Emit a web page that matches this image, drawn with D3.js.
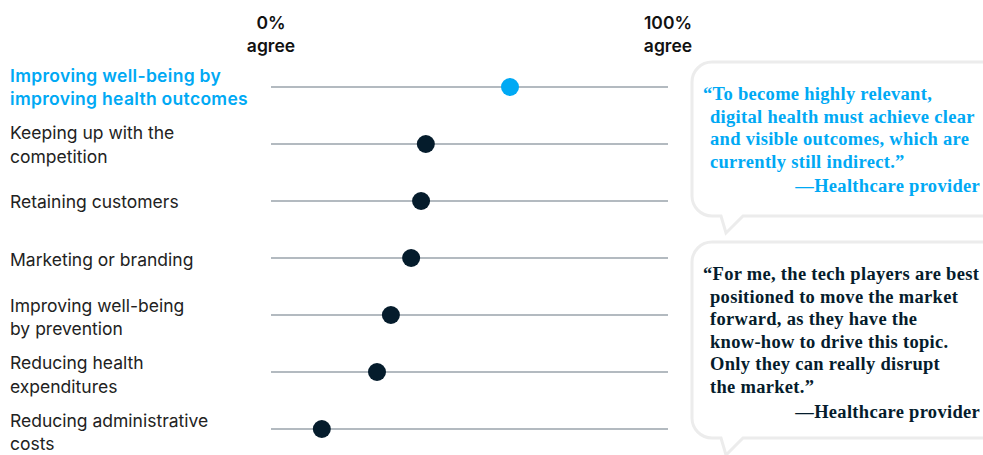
<!DOCTYPE html>
<html><head><meta charset="utf-8">
<script src="https://cdn.jsdelivr.net/npm/d3@7"></script>
<style>
html,body{margin:0;padding:0;background:#fff;}
svg{display:block;}
</style></head>
<body>
<svg id="chart" width="983" height="455"></svg>
<script>
const categories = [
  ["Improving well-being by", "improving health outcomes"],
  ["Keeping up with the", "competition"],
  ["Retaining customers"],
  ["Marketing or branding"],
  ["Improving well-being", "by prevention"],
  ["Reducing health", "expenditures"],
  ["Reducing administrative", "costs"]
];
const values = [60.2, 39.0, 37.8, 35.3, 30.2, 26.7, 12.8];
const highlighted = [true, false, false, false, false, false, false];
const axisLabels = [["0%", "agree"], ["100%", "agree"]];
const axisValues = [0, 100];
const quotes = [
  {lines: ["\u201CTo become highly relevant,", "digital health must achieve clear", "and visible outcomes, which are", "currently still indirect.\u201D"], by: "\u2014Healthcare provider", blue: true},
  {lines: ["\u201CFor me, the tech players are best", "positioned to move the market", "forward, as they have the", "know-how to drive this topic.", "Only they can really disrupt", "the market.\u201D"], by: "\u2014Healthcare provider", blue: false}
];

const BLUE = "#00A9F4", NAVY = "#051C2C";
const svg = d3.select("#chart");
const x = d3.scaleLinear().domain([0, 100]).range([271, 668]);
const y = d3.scalePoint().domain(d3.range(categories.length)).range([87, 429]);
const yLab = d3.scalePoint().domain(d3.range(categories.length)).range([81.5, 426.5]);

// header labels
axisValues.forEach((v, i) => {
  const t = svg.append("text").attr("x", x(v)).attr("text-anchor", "middle")
    .attr("font-family", "Inter, 'Open Sans', sans-serif").attr("font-weight", 600)
    .attr("font-size", 17.5).attr("fill", "#111");
  axisLabels[i].forEach((s, j) => t.append("tspan").attr("x", x(v)).attr("y", 28.5 + j * 23.5).text(s));
});

const rows = svg.selectAll("g.row").data(categories).join("g").attr("class", "row")
  .attr("transform", (d, i) => `translate(0,${y(i)})`);

rows.append("line").attr("x1", x(0)).attr("x2", x(100)).attr("y1", 0).attr("y2", 0)
  .attr("stroke", "#9aa3ab").attr("stroke-width", 1.5);

rows.append("circle").attr("cx", (d, i) => x(values[i])).attr("cy", 0).attr("r", 9)
  .attr("fill", (d, i) => highlighted[i] ? BLUE : NAVY);

categories.forEach((d, i) => {
  const t = svg.append("text").attr("font-family", "Inter, 'Open Sans', sans-serif")
    .attr("font-size", 17.5).attr("fill", highlighted[i] ? BLUE : "#222")
    .attr("font-weight", highlighted[i] ? 600 : 400)
    .attr("letter-spacing", highlighted[i] ? 0.3 : 0);
  const base = yLab(i) + (d.length === 1 ? 11.75 : 0);
  d.forEach((s, j) => t.append("tspan").attr("x", 10).attr("y", base + j * 23.5).text(s));
});

// speech bubbles
const bubbles = [{top: 62, bottom: 216, textTop: 100}, {top: 242, bottom: 438, textTop: 280}];
bubbles.forEach((b, k) => {
  const L = 692, R = 1010, r = 20;
  const p = d3.path();
  p.moveTo(L + r, b.top);
  p.lineTo(R - r, b.top);
  p.arcTo(R, b.top, R, b.top + r, r);
  p.lineTo(R, b.bottom - r);
  p.arcTo(R, b.bottom, R - r, b.bottom, r);
  p.lineTo(743, b.bottom);
  p.lineTo(726, b.bottom + 17);
  p.lineTo(721, b.bottom);
  p.lineTo(L + r, b.bottom);
  p.arcTo(L, b.bottom, L, b.bottom - r, r);
  p.lineTo(L, b.top + r);
  p.arcTo(L, b.top, L + r, b.top, r);
  p.closePath();
  svg.append("path").attr("d", p.toString()).attr("fill", "#fff")
    .attr("stroke", "#ececec").attr("stroke-width", 3);
  const q = quotes[k];
  const col = q.blue ? BLUE : NAVY;
  const g = svg.append("g").attr("font-family", "'Liberation Serif', 'DejaVu Serif', serif")
    .attr("font-weight", 700).attr("font-size", 18.5).attr("letter-spacing", 0.3).attr("fill", col);
  q.lines.forEach((s, j) => {
    g.append("text").attr("x", j === 0 ? 703 : 710).attr("y", b.textTop + j * 22.6).text(s);
  });
  g.append("text").attr("x", 980).attr("text-anchor", "end")
    .attr("y", b.textTop + q.lines.length * 22.6 + 2).text(q.by);
});
</script>
</body></html>
